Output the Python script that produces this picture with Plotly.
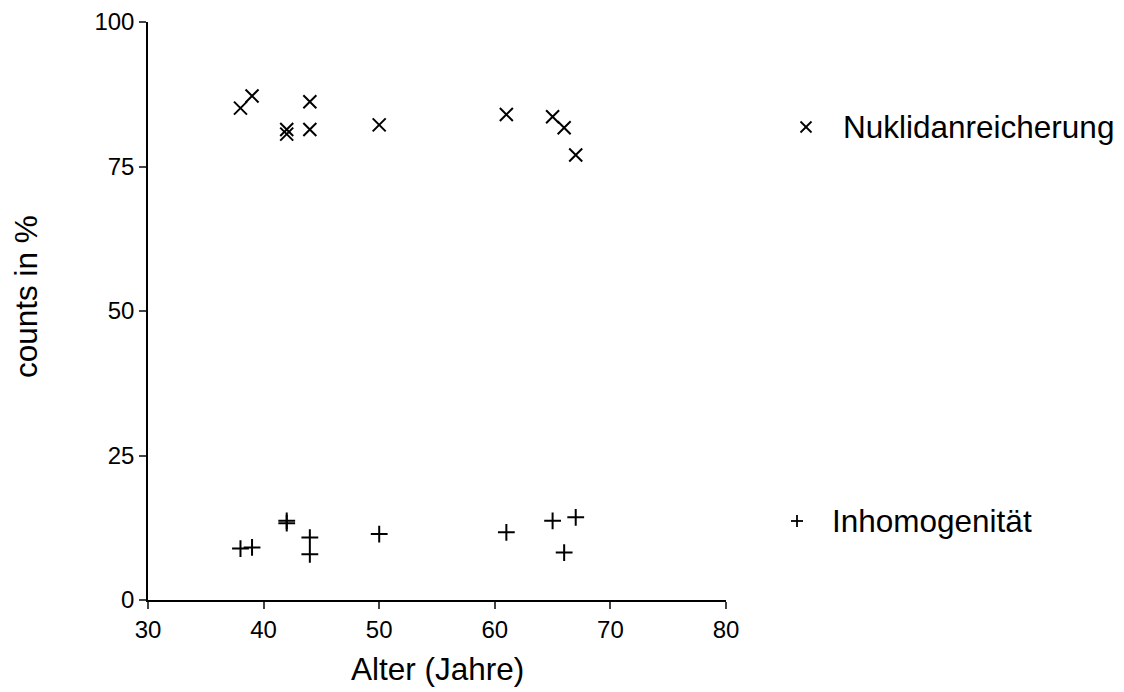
import plotly.graph_objects as go

age_nuklid = [38, 39, 42, 42, 44, 44, 50, 61, 65, 66, 67]
nuklid = [85.1, 87.2, 81.4, 80.6, 86.2, 81.4, 82.2, 84.0, 83.6, 81.7, 77.0]
age_inhom = [38, 39, 42, 42, 44, 44, 50, 61, 65, 66, 67]
inhom = [8.9, 9.1, 13.7, 13.3, 10.8, 7.9, 11.4, 11.7, 13.7, 8.2, 14.3]
x_ticks = [30, 40, 50, 60, 70, 80]
y_ticks = [0, 25, 50, 75, 100]
names = ["Nuklidanreicherung", "Inhomogenität"]
x_title = "Alter (Jahre)"
y_title = "counts in %"

FONT = "Liberation Sans, Arial, sans-serif"

fig = go.Figure()
fig.add_trace(go.Scatter(x=age_nuklid, y=nuklid, mode="markers", name=names[0],
                         marker=dict(symbol="x-thin", size=13, line=dict(width=2, color="black"), color="black"),
                         cliponaxis=False, showlegend=False))
fig.add_trace(go.Scatter(x=age_inhom, y=inhom, mode="markers", name=names[1],
                         marker=dict(symbol="cross-thin", size=12, line=dict(width=2, color="black"), color="black"),
                         cliponaxis=False, showlegend=False))

# page has an 8px body margin; figure coords = page coords - 8
OFF = 8
PW, PH = 1124, 692
W, H = PW - OFF, PH - OFF
PL, PR, PT, PB = 148, 726, 22, 600   # plot area in page coords
L, T = PL - OFF, PT - OFF
R, B = W - (PR - OFF), H - (PB - OFF)
pw, ph = PR - PL, PB - PT

def px(xp):
    return (xp - PL) / pw

def py(yp):
    return (PB - yp) / ph

shapes = []
cx, cy, s = 806, 127, 5.5
shapes.append(dict(type="line", xref="paper", yref="paper", x0=px(cx - s), y0=py(cy - s), x1=px(cx + s), y1=py(cy + s), line=dict(color="black", width=1.8)))
shapes.append(dict(type="line", xref="paper", yref="paper", x0=px(cx - s), y0=py(cy + s), x1=px(cx + s), y1=py(cy - s), line=dict(color="black", width=1.8)))
cx, cy, s = 797, 521, 6
shapes.append(dict(type="line", xref="paper", yref="paper", x0=px(cx - s), y0=py(cy), x1=px(cx + s), y1=py(cy), line=dict(color="black", width=1.8)))
shapes.append(dict(type="line", xref="paper", yref="paper", x0=px(cx), y0=py(cy - s), x1=px(cx), y1=py(cy + s), line=dict(color="black", width=1.8)))

TS = 31.5
annotations = [
    dict(text=names[0], xref="paper", yref="paper", x=px(841), y=py(127), xanchor="left", yanchor="middle",
         showarrow=False, font=dict(family=FONT, size=TS, color="black")),
    dict(text=names[1], xref="paper", yref="paper", x=px(830), y=py(521), xanchor="left", yanchor="middle",
         showarrow=False, font=dict(family=FONT, size=TS, color="black")),
    dict(text=x_title, xref="paper", yref="paper", x=px(437), y=py(669), xanchor="center", yanchor="middle",
         showarrow=False, font=dict(family=FONT, size=TS, color="black")),
    dict(text=y_title, xref="paper", yref="paper", x=px(26), y=py(297), xanchor="center", yanchor="middle",
         textangle=-90, showarrow=False, font=dict(family=FONT, size=TS, color="black")),
]

fig.update_layout(
    width=W, height=H,
    margin=dict(l=L, r=R, t=T, b=B),
    plot_bgcolor="white", paper_bgcolor="white",
    font=dict(family=FONT, color="black", size=24),
    shapes=shapes, annotations=annotations,
    xaxis=dict(range=[30, 80], tickvals=x_ticks, ticks="outside", ticklen=7, tickwidth=1.5,
               showline=True, linecolor="black", linewidth=1.5, showgrid=False, zeroline=False,
               tickfont=dict(size=24), automargin=False),
    yaxis=dict(range=[0, 100], tickvals=y_ticks, ticks="outside", ticklen=7, tickwidth=1.5,
               showline=True, linecolor="black", linewidth=1.5, showgrid=False, zeroline=False,
               tickfont=dict(size=24), automargin=False),
)

fig.write_html("out.html")
